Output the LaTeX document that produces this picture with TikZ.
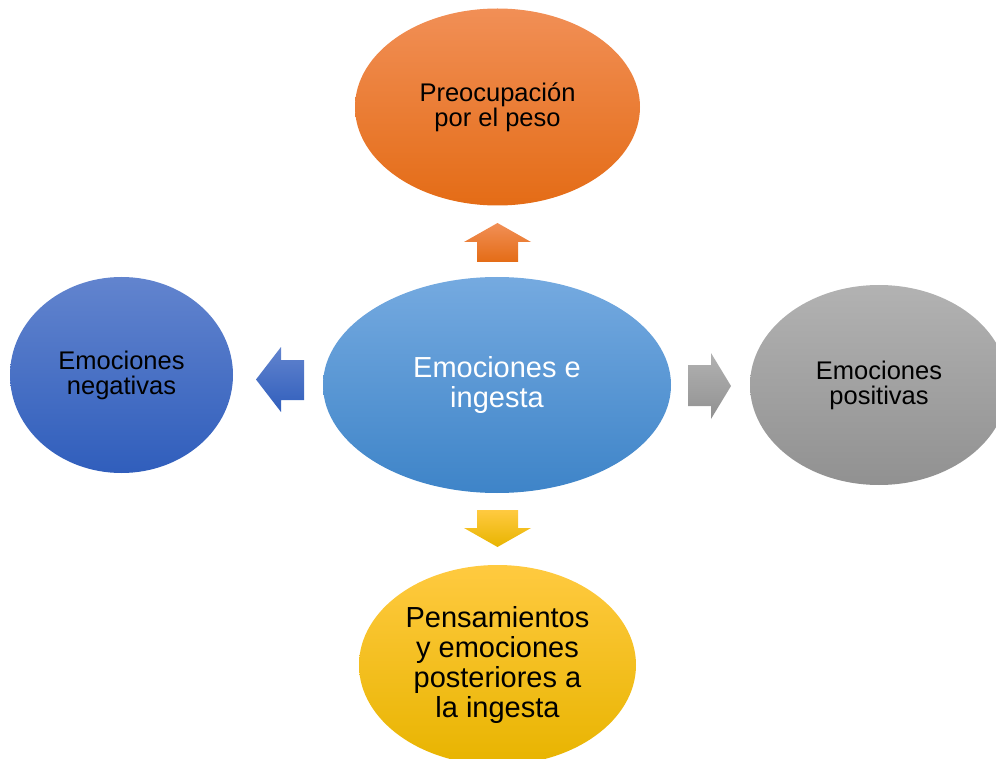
\documentclass[tikz,border=0pt]{standalone}
\usepackage{fontspec}
\setmainfont{Liberation Sans}
\usetikzlibrary{shapes.geometric}
\definecolor{orT}{RGB}{241,143,86}
\definecolor{orM}{RGB}{244,125,44}
\definecolor{orB}{RGB}{228,108,22}
\definecolor{blT}{RGB}{117,170,224}
\definecolor{blM}{RGB}{88,155,218}
\definecolor{blB}{RGB}{62,132,200}
\definecolor{dbT}{RGB}{98,132,206}
\definecolor{dbM}{RGB}{70,113,198}
\definecolor{dbB}{RGB}{48,94,188}
\definecolor{grT}{RGB}{178,178,178}
\definecolor{grM}{RGB}{165,165,165}
\definecolor{grB}{RGB}{145,145,145}
\definecolor{ylT}{RGB}{255,202,64}
\definecolor{ylM}{RGB}{255,192,8}
\definecolor{ylB}{RGB}{232,180,0}
\begin{document}
\begin{tikzpicture}[x=1pt,y=-1pt,
  bubble/.style={ellipse, inner sep=0pt, align=center, text=black},
  smalltext/.style={font=\fontsize{25.5}{25}\selectfont},
  bigtext/.style={font=\fontsize{29}{30}\selectfont},
  orangefill/.style={top color=orT, middle color=orM, bottom color=orB},
  bluefill/.style={top color=blT, middle color=blM, bottom color=blB},
  darkbluefill/.style={top color=dbT, middle color=dbM, bottom color=dbB},
  grayfill/.style={top color=grT, middle color=grM, bottom color=grB},
  yellowfill/.style={top color=ylT, middle color=ylM, bottom color=ylB},
  blockarrow/.style={draw=none}
]
\useasboundingbox (0,0) rectangle (996,759);

\node[bubble, orangefill, smalltext, minimum width=285pt, minimum height=197pt] (top) at (497.5,107) {Preocupación\\por el peso};
\node[bubble, bluefill, bigtext, text=white, minimum width=348pt, minimum height=216pt] (center) at (497,385) {Emociones e\\ingesta};
\node[bubble, darkbluefill, smalltext, minimum width=223pt, minimum height=196pt] (left) at (121.5,375) {Emociones\\negativas};
\node[bubble, grayfill, smalltext, minimum width=258pt, minimum height=200pt] (right) at (879,385) {Emociones\\positivas};
\node[bubble, yellowfill, bigtext, minimum width=277pt, minimum height=200pt] (bottom) at (497.5,665) {Pensamientos\\y emociones\\posteriores a\\la ingesta};

% block arrows
\path[blockarrow, top color=orT, bottom color=orB]
  (477,262) -- (477,242) -- (464,242) -- (497.5,223) -- (531,242) -- (518,242) -- (518,262) -- cycle;
\path[blockarrow, top color=ylT, bottom color=ylB]
  (477,510) -- (518,510) -- (518,528) -- (531,528) -- (497.5,547) -- (464,528) -- (477,528) -- cycle;
\path[blockarrow, top color=dbT, bottom color=dbB]
  (304,360) -- (281,360) -- (281,347) -- (256,379.5) -- (281,412) -- (281,400) -- (304,400) -- cycle;
\path[blockarrow, top color=grT, bottom color=grB]
  (688,365) -- (711,365) -- (711,353) -- (731,386) -- (711,419) -- (711,406) -- (688,406) -- cycle;
\end{tikzpicture}
\end{document}
